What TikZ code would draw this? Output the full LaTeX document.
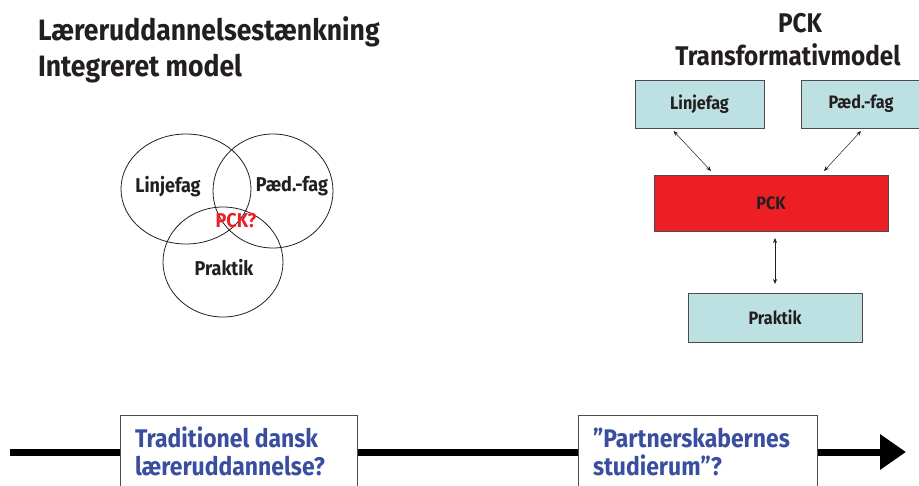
\documentclass[tikz,border=0pt]{standalone}
\usepackage{fontspec}
\setmainfont{Fira Sans}[FakeStretch=0.9]
\usetikzlibrary{arrows.meta,shapes.geometric}
\definecolor{boxcyan}{HTML}{BDE1E2}
\definecolor{pckred}{HTML}{EE1F24}
\definecolor{textblue}{HTML}{3A4E9F}
\definecolor{ink}{HTML}{231F20}
\begin{document}
\begin{tikzpicture}[x=1pt,y=-1pt,
  every node/.style={inner sep=0pt,outer sep=0pt},
  heading/.style={font=\fontsize{29.5}{34}\selectfont\bfseries,text=ink,anchor=base west},
  rtitle/.style={font=\fontsize{27}{30}\selectfont\bfseries,text=ink,anchor=base},
  venn/.style={ellipse,draw=ink,line width=0.8pt},
  vennlabel/.style={font=\fontsize{20}{24}\selectfont\bfseries,text=ink,anchor=base},
  cbox/.style={rectangle,draw=black!70,line width=0.8pt,fill=boxcyan,
    font=\fontsize{18}{22}\selectfont\bfseries,text=ink},
  biarrow/.style={draw=ink,line width=0.5pt,
    {Stealth[length=5pt,width=4pt]}-{Stealth[length=5pt,width=4pt]}},
  stagebox/.style={rectangle,draw=black!70,line width=0.8pt,fill=white},
  stagetext/.style={font=\fontsize{25.5}{28}\selectfont\bfseries,text=textblue,
    anchor=base west,align=left}]
\useasboundingbox (0,0) rectangle (919,485);
\clip (0,0) rectangle (919,485);

% headings
\node[heading] (h1) at (38,40) {Læreruddannelsestænkning};
\node[heading] (h2) at (38,76) {Integreret model};
\node[rtitle] (r1) at (800,32) {PCK};
\node[rtitle] (r2) at (788,65) {Transformativmodel};

% integrated model: three overlapping circles
\node[venn,minimum width=130pt,minimum height=110pt] (cl) at (186,189) {};
\node[venn,minimum width=120pt,minimum height=114pt] (cp) at (273,191) {};
\node[venn,minimum width=120pt,minimum height=110pt] (cr) at (223,262) {};
\node[vennlabel] (tl) at (168,192) {Linjefag};
\node[vennlabel] (tp) at (292,191) {Pæd.-fag};
\node[vennlabel,text=pckred] (tq) at (236,227) {PCK?};
\node[vennlabel] (tr) at (224,275) {Praktik};

% transformative model
\node[cbox,minimum width=129pt,minimum height=48pt] (lin) at (699.5,104) {Linjefag};
\node[cbox,minimum width=120pt,minimum height=48pt] (ped) at (861,104) {Pæd.-fag};
\node[cbox,fill=pckred,minimum width=234pt,minimum height=56pt] (pck) at (771,203) {PCK};
\node[cbox,minimum width=174pt,minimum height=49pt] (prak) at (775,317.5) {Praktik};
\draw[biarrow] ([xshift=-26pt,yshift=-3pt]lin.south) -- ([xshift=-60pt,yshift=4pt]pck.north);
\draw[biarrow] ([yshift=-3pt]ped.south) -- ([xshift=53pt,yshift=4pt]pck.north);
\draw[biarrow] ([xshift=4pt,yshift=-7pt]pck.south) -- ([yshift=9pt]prak.north);

% time line
\coordinate (tstart) at (10,452);
\coordinate (tend) at (906,452);
\draw[line width=7pt,-{Triangle[length=26pt,width=34pt]}] (tstart) -- (tend);
\node[stagebox,minimum width=237pt,minimum height=90pt,anchor=north west] (s1) at (120,415) {};
\node[stagebox,minimum width=239pt,minimum height=90pt,anchor=north west] (s2) at (578,415) {};
\node[stagetext] (s1t) at ([xshift=15pt,yshift=-60pt]s1.north west) {Traditionel dansk\\læreruddannelse?};
\node[stagetext] (s2t) at ([xshift=15pt,yshift=-60pt]s2.north west) {”Partnerskabernes\\studierum”?};
\end{tikzpicture}
\end{document}
